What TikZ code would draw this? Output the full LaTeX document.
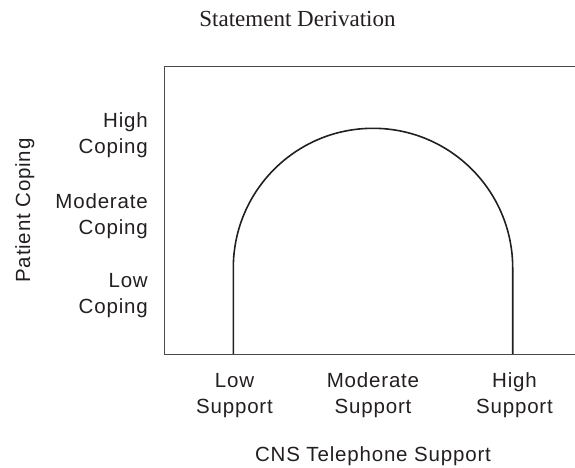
\documentclass[tikz,border=0pt]{standalone}
\usepackage{fontspec}
\setmainfont{Liberation Serif}
\newfontfamily\labelfont[LetterSpace=4]{Liberation Sans}
\definecolor{ink}{HTML}{231F20}
\definecolor{frame}{HTML}{4A4A4A}
\begin{document}
\begin{tikzpicture}[x=1pt,y=-1pt,
  axislabel/.style={inner sep=0pt, text=ink, font=\labelfont\fontsize{20.5}{25.8}\selectfont},
  ticklabel/.style={axislabel, align=right, anchor=base east},
  supportlabel/.style={axislabel, align=center, anchor=base},
  plotframe/.style={draw=frame, line width=1pt},
  curve/.style={draw=ink, line width=1.6pt}]
  \useasboundingbox (0,0) rectangle (575,467);

  % title
  \node[inner sep=0pt, anchor=base, text=ink, font=\fontsize{23}{27}\selectfont]
    (title) at (297.5,26.7) {Statement Derivation};

  % open frame (no right edge)
  \coordinate (tr) at (575,66.5);
  \coordinate (tl) at (164.5,66.5);
  \coordinate (bl) at (164.5,354);
  \coordinate (br) at (575,354);
  \draw[plotframe] (tr) -- (tl) -- (bl) -- (br);

  % response curve: two uprights joined by a half circle (y axis points down)
  \coordinate (footL) at (233.3,354);
  \coordinate (footR) at (512.7,354);
  \draw[curve] (footL) -- (233.3,268) arc[start angle=180, end angle=360, radius=139.7] -- (footR);

  % vertical axis (multi-line nodes are placed by their last baseline)
  \node[ticklabel] (hicope) at (148,153.5) {High\\Coping};
  \node[ticklabel] (modcope) at (148,234.3) {Moderate\\Coping};
  \node[ticklabel] (locope) at (148,313.3) {Low\\Coping};
  \node[axislabel, anchor=base, rotate=90] (ytitle) at (30,210.5) {Patient Coping};

  % horizontal axis
  \node[supportlabel] (losup) at (234.5,413.3) {Low\\Support};
  \node[supportlabel] (modsup) at (373,413.3) {Moderate\\Support};
  \node[supportlabel] (hisup) at (514.5,413.3) {High\\Support};
  \node[axislabel, anchor=base] (xtitle) at (373,461.4) {CNS Telephone Support};
\end{tikzpicture}
\end{document}
